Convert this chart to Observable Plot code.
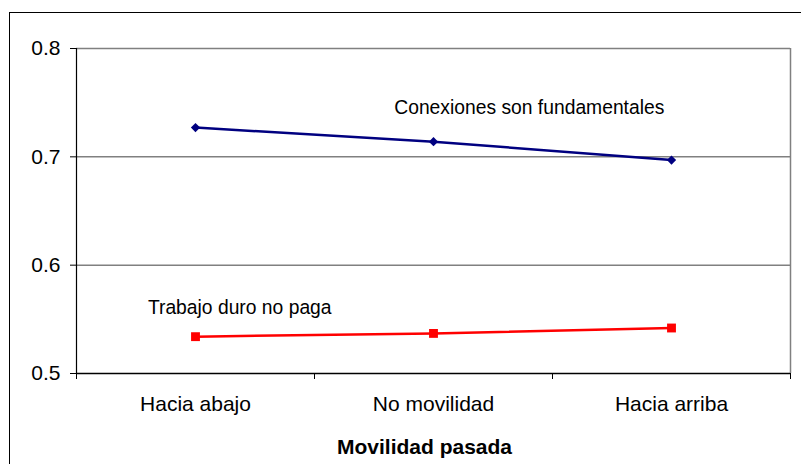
<!DOCTYPE html>
<html>
<head>
<meta charset="utf-8">
<script src="https://cdn.jsdelivr.net/npm/d3@7"></script>
<script src="https://cdn.jsdelivr.net/npm/@observablehq/plot@0.6"></script>
<style>
  html, body { margin: 0; padding: 0; background: #fff; overflow: hidden; }
  #wrap { position: relative; width: 801px; height: 464px; overflow: hidden; }
  #frame { position: absolute; left: 9px; top: 12px; width: 1000px; height: 1000px; border: 1px solid #000; box-sizing: border-box; pointer-events: none; }
</style>
</head>
<body>
<div id="wrap"><div id="chart"></div><div id="frame"></div></div>
<script>
const categories = ["Hacia abajo", "No movilidad", "Hacia arriba"];
const conexiones = [0.727, 0.714, 0.697];
const trabajo = [0.534, 0.537, 0.542];
const yTicks = [0.5, 0.6, 0.7, 0.8];
const seriesNames = ["Conexiones son fundamentales", "Trabajo duro no paga"];
const xTitle = "Movilidad pasada";

const idx = categories.map((_, i) => i);
const blueData = idx.map(i => ({x: i, y: conexiones[i]}));
const redData = idx.map(i => ({x: i, y: trabajo[i]}));
const bounds = [-0.5, ...idx.map(i => i + 0.5)];

const chart = Plot.plot({
  width: 801,
  height: 464,
  marginLeft: 76,
  marginRight: 11,
  marginTop: 48,
  marginBottom: 91,
  style: {fontFamily: "'Liberation Sans', Arial, sans-serif", fontSize: "21px", color: "#000", background: "transparent", overflow: "visible"},
  x: {domain: [-0.5, categories.length - 0.5]},
  y: {domain: [0.5, 0.8]},
  marks: [
    Plot.ruleY(yTicks.filter(v => v > 0.5), {stroke: "#808080", strokeWidth: 1.5, strokeOpacity: 1}),
    Plot.ruleX([categories.length - 0.5], {stroke: "#808080", strokeWidth: 1.5}),
    Plot.ruleX([-0.5], {stroke: "#000", strokeWidth: 1.2}),
    Plot.ruleY([0.5], {stroke: "#000", strokeWidth: 1.5}),
    Plot.axisY({ticks: yTicks, tickFormat: d3.format(".1f"), tickSize: 6, tickPadding: 10, label: null, stroke: "#000", fill: "#000", fontSize: 21}),
    Plot.axisX({ticks: bounds, tickFormat: () => "", tickSize: 6, label: null, stroke: "#000"}),
    Plot.axisX({ticks: idx, tickFormat: i => categories[i], tickSize: 0, tickPadding: 23, label: null, fill: "#000", fontSize: 21}),
    Plot.text([xTitle], {frameAnchor: "bottom", lineAnchor: "middle", dy: 74, dx: -9, fontWeight: "bold", fontSize: 21, fill: "#000"}),
    Plot.line(blueData, {x: "x", y: "y", stroke: "#000080", strokeWidth: 2.5}),
    Plot.dot(blueData, {x: "x", y: "y", symbol: "square", r: 3.7, rotate: 45, fill: "#000080", stroke: "none"}),
    Plot.line(redData, {x: "x", y: "y", stroke: "#ff0000", strokeWidth: 2.5}),
    Plot.dot(redData, {x: "x", y: "y", symbol: "square", r: 5, fill: "#ff0000", stroke: "none"}),
    Plot.text([seriesNames[0]], {x: 0.835, y: 0.745, textAnchor: "start", lineAnchor: "middle", fontSize: 19.3, fill: "#000"}),
    Plot.text([seriesNames[1]], {x: -0.2, y: 0.561, textAnchor: "start", lineAnchor: "middle", fontSize: 19.3, fill: "#000"})
  ]
});
document.getElementById("chart").appendChild(chart);
</script>
</body>
</html>
